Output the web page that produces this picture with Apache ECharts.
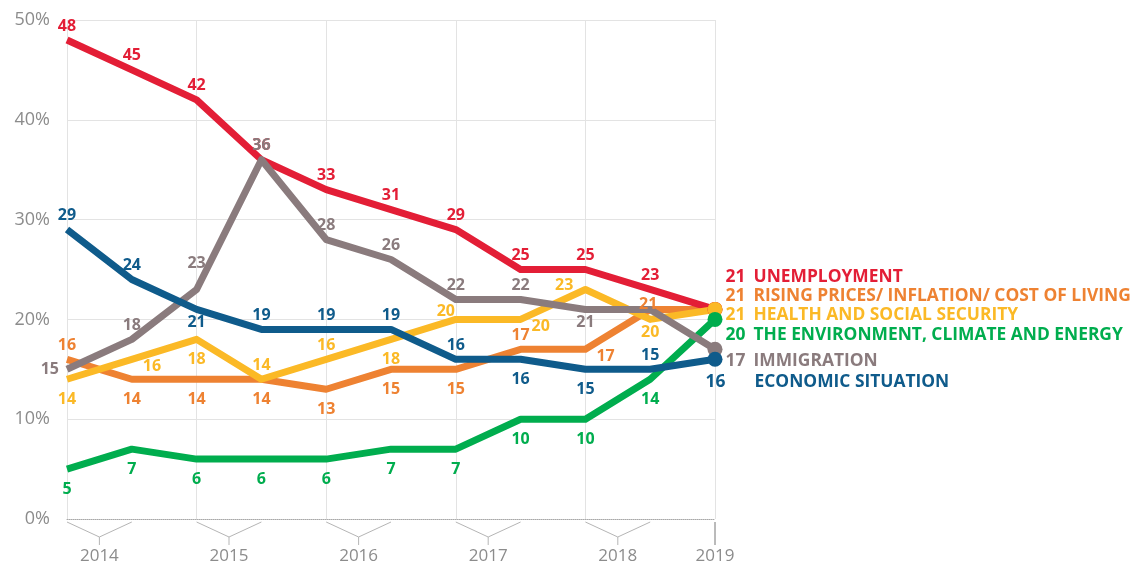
<!DOCTYPE html>
<html>
<head>
<meta charset="utf-8">
<script src="https://cdn.jsdelivr.net/npm/echarts@6/dist/echarts.min.js"></script>
<style>
  body { margin: 0; padding: 0; background: #fff; }
  #chart { width: 1134px; height: 565px; }
</style>
</head>
<body>
<div id="chart"></div>
<script>
// survey waves (two per year, last one is spring 2019)
const waves = ['Spring 2014', 'Autumn 2014', 'Spring 2015', 'Autumn 2015', 'Spring 2016', 'Autumn 2016',
  'Spring 2017', 'Autumn 2017', 'Spring 2018', 'Autumn 2018', 'Spring 2019'];
const years = ['2014', '2015', '2016', '2017', '2018', '2019'];

const unemployment = [48, 45, 42, 36, 33, 31, 29, 25, 25, 23, 21];
const risingPrices = [16, 14, 14, 14, 13, 15, 15, 17, 17, 21, 21];
const healthSocial = [14, 16, 18, 14, 16, 18, 20, 20, 23, 20, 21];
const environment = [5, 7, 6, 6, 6, 7, 7, 10, 10, 14, 20];
const immigration = [15, 18, 23, 36, 28, 26, 22, 22, 21, 21, 17];
const economicSituation = [29, 24, 21, 19, 19, 19, 16, 16, 15, 15, 16];

const yMax = 50;
const yStep = 10;

// where each value label sits (style codes, see labelStyles)
const placeUnemployment = ['t', 't', 't', 't', 't', 't', 't', 't', 't', 't', 'e'];
const placePrices = ['t', 'b', 'b', 'b', 'b', 'b', 'b', 't', 'r', 'tn', 'e'];
const placeHealth = ['b', 'r', 'b', 't', 't', 'b', 'tl', 'r', 'lt', 'bn', 'e'];
const placeEnvironment = ['b', 'b', 'b', 'b', 'b', 'b', 'b', 'b', 'b', 'b', 'e'];
const placeImmigration = ['l', 't', 'tf', 't', 't', 't', 't', 't', 'bn', 'x', 'e'];
const placeEconomic = ['t', 't', 'bn', 't', 't', 't', 't', 'b', 'b', 't', 'e'];

const labelStyles = {
  t: { position: 'top', distance: 6 },
  tf: { position: 'top', distance: 6, offset: [0, -12] },
  tn: { position: 'top', distance: 0, offset: [-2, 3] },
  tl: { position: 'top', distance: 0, offset: [-10, 0] },
  b: { position: 'bottom', distance: 12 },
  bn: { position: 'bottom', distance: 5 },
  l: { position: 'left', distance: 8 },
  lt: { position: 'left', distance: 12, offset: [0, -4] },
  r: { position: 'right', distance: 11, offset: [0, 7] },
  x: { show: false }
};

const FONT = 'Open Sans';
const AXIS_GREY = '#8c8c8c';
const GRID_GREY = '#e3e3e3';

function makeSeries(name, values, color, places, endOffset, valueBox) {
  const last = values.length - 1;
  return {
    name: name,
    type: 'line',
    symbol: 'circle',
    symbolSize: (v, p) => (p.dataIndex === last ? 15 : 0),
    lineStyle: { width: 7, color: color, join: 'round' },
    itemStyle: { color: color },
    label: { color: color, fontSize: 16, fontWeight: 'bold', fontFamily: FONT },
    emphasis: { disabled: true },
    data: values.map((v, i) => {
      const code = places[i];
      if (code === 'e') {
        return {
          value: v,
          label: {
            show: true,
            position: 'right',
            distance: 3,
            offset: endOffset,
            formatter: p => '{v|' + p.value + '}{n|' + name + '}',
            rich: {
              v: { width: valueBox, align: 'left', color: color, fontSize: 17.4, fontWeight: 'bold', fontFamily: FONT },
              n: { color: color, fontSize: 17.4, fontWeight: 'bold', fontFamily: FONT }
            }
          }
        };
      }
      return { value: v, label: Object.assign({ show: true }, labelStyles[code]) };
    })
  };
}

// survey waves that belong to each year
const yearCentre = {};
years.forEach(y => {
  yearCentre[y] = waves.map((w, i) => (w.endsWith(y) ? i : -1)).filter(i => i >= 0);
});

const chart = echarts.init(document.getElementById('chart'));

chart.setOption({
  animation: false,
  backgroundColor: '#fff',
  grid: { left: 67, right: 419, top: 20, bottom: 46, outerBoundsMode: 'none', containLabel: false },
  xAxis: [{
    type: 'category',
    data: waves,
    boundaryGap: false,
    axisLine: { lineStyle: { color: '#a8a8a8', type: 'dotted', width: 1 } },
    axisTick: { show: false },
    axisLabel: { show: false },
    splitLine: { show: true, lineStyle: { color: GRID_GREY } }
  }, {
    type: 'value',
    position: 'bottom',
    min: 0,
    max: waves.length - 1,
    interval: 0.5,
    axisLine: { show: false },
    axisTick: { show: false },
    splitLine: { show: false },
    axisLabel: {
      margin: 29,
      color: AXIS_GREY,
      fontSize: 17,
      fontFamily: FONT,
      showMaxLabel: true,
      formatter: v => {
        for (const y of years) {
          const idx = yearCentre[y];
          const mid = (idx[0] + idx[idx.length - 1]) / 2;
          if (Math.abs(mid - v) < 1e-6) return y;
        }
        return '';
      }
    }
  }],
  yAxis: {
    type: 'value',
    min: 0,
    max: yMax,
    interval: yStep,
    axisLine: { show: false },
    axisTick: { show: false },
    axisLabel: { formatter: '{value}%', color: AXIS_GREY, fontSize: 18, fontFamily: FONT, margin: 17 },
    splitLine: { show: true, showMinLine: false, lineStyle: { color: GRID_GREY } }
  },
  series: [
    makeSeries('RISING PRICES/ INFLATION/ COST OF LIVING', risingPrices, '#ee8232', placePrices, [0, -13], 28),
    makeSeries('UNEMPLOYMENT', unemployment, '#e31e36', placeUnemployment, [0, -32], 28),
    makeSeries('HEALTH AND SOCIAL SECURITY', healthSocial, '#fbb926', placeHealth, [0, 6], 28),
    makeSeries('THE ENVIRONMENT, CLIMATE AND ENERGY', environment, '#00ad4e', placeEnvironment, [0, 16], 28),
    makeSeries('IMMIGRATION', immigration, '#8a7b7d', placeImmigration, [0, 12], 28),
    makeSeries('ECONOMIC SITUATION', economicSituation, '#0f5b8b', placeEconomic, [-20, 23], 49)
  ]
});

// chevron brackets under the axis, one per year
const y0 = chart.convertToPixel({ yAxisIndex: 0 }, 0);
const brackets = [];
years.forEach(y => {
  const xs = yearCentre[y].map(i => chart.convertToPixel({ xAxisIndex: 0 }, i));
  if (xs.length > 1) {
    const xa = xs[0], xb = xs[xs.length - 1], xm = (xa + xb) / 2;
    brackets.push({
      type: 'polyline', silent: true,
      shape: { points: [[xa, y0 + 3], [xm, y0 + 18], [xb, y0 + 3]] },
      style: { stroke: '#b5b5b5', lineWidth: 1, fill: null }
    });
    brackets.push({
      type: 'line', silent: true,
      shape: { x1: xm, y1: y0 + 18, x2: xm, y2: y0 + 26 },
      style: { stroke: '#b5b5b5', lineWidth: 1 }
    });
  } else {
    brackets.push({
      type: 'line', silent: true,
      shape: { x1: xs[0], y1: y0 + 3, x2: xs[0], y2: y0 + 26 },
      style: { stroke: '#777', lineWidth: 1 }
    });
  }
});
chart.setOption({ graphic: brackets });
</script>
</body>
</html>
